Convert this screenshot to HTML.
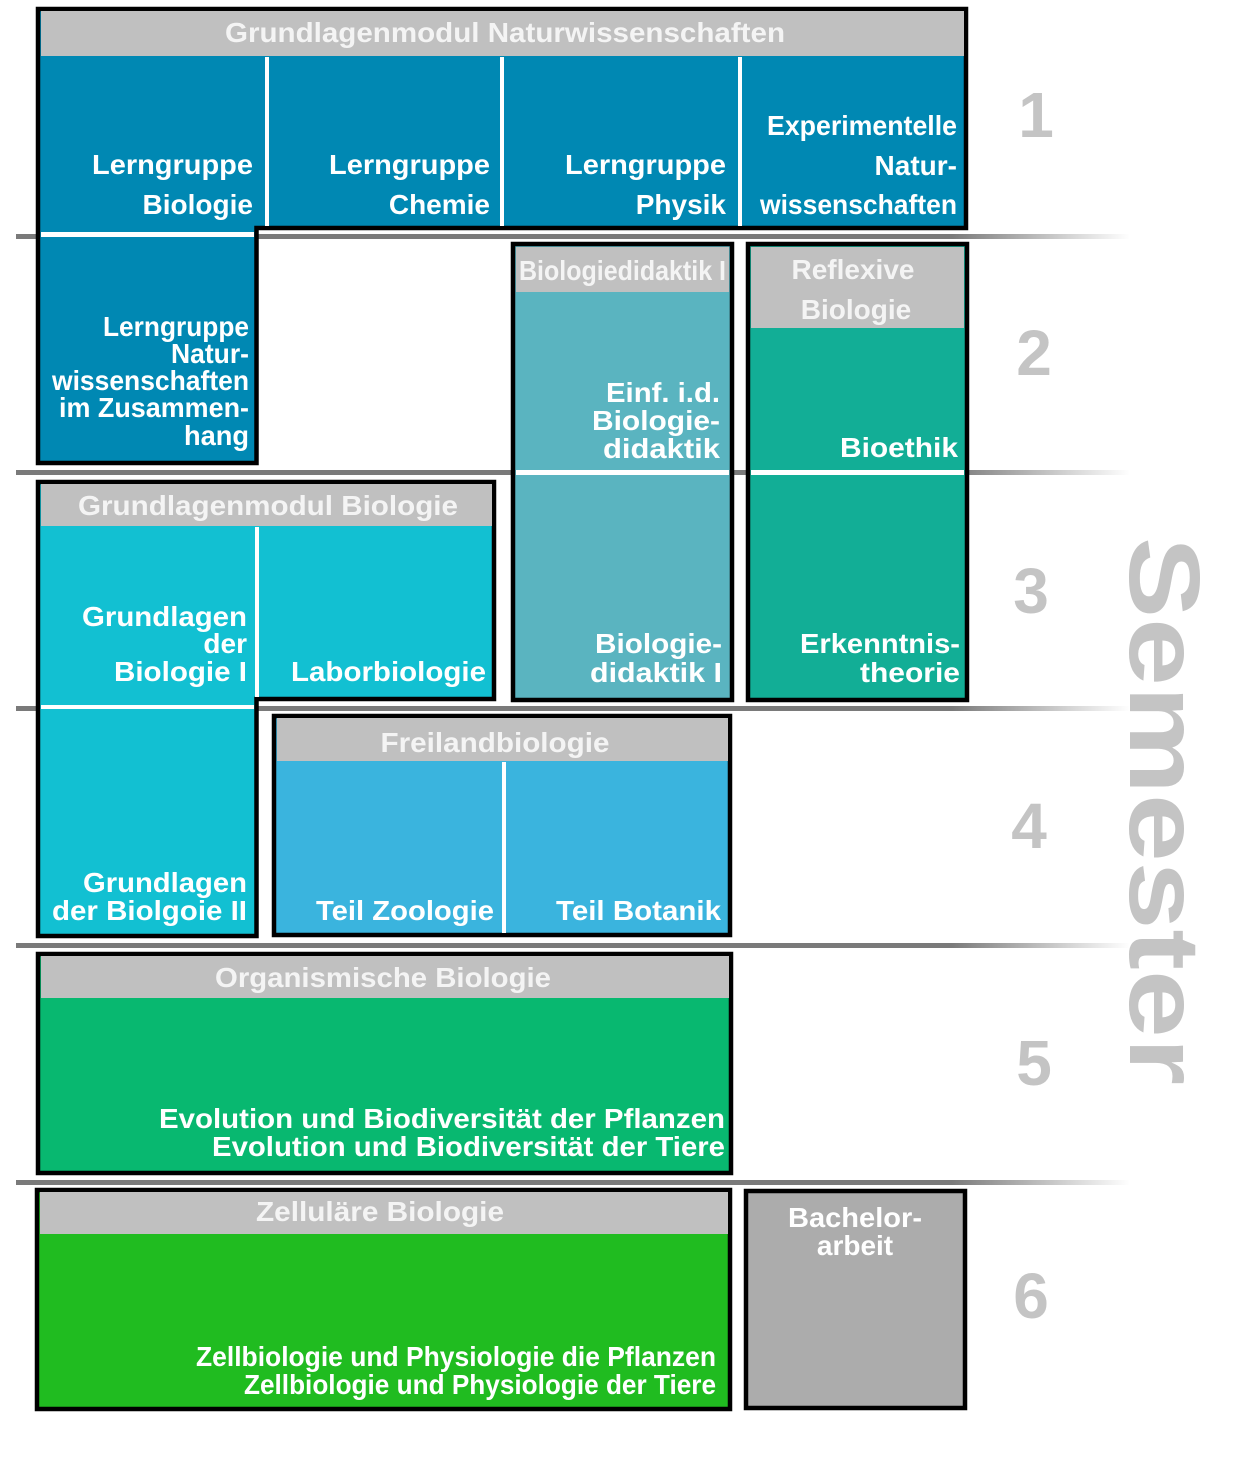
<!DOCTYPE html>
<html><head><meta charset="utf-8"><style>
html,body{margin:0;padding:0;background:#fff}
svg{display:block}
text{font-family:"Liberation Sans",sans-serif;font-weight:bold;fill:#fff}
.c{font-size:28px}
.h{font-size:28px;fill:#f4f4f4}
.n{font-size:64px;fill:#c4c4c4}
</style></head><body>
<svg width="1236" height="1470" viewBox="0 0 1236 1470" xmlns="http://www.w3.org/2000/svg">
<defs>
<linearGradient id="g" x1="16" y1="0" x2="1130" y2="0" gradientUnits="userSpaceOnUse">
<stop offset="0" stop-color="#7a7a7a"/><stop offset="0.84" stop-color="#7a7a7a"/><stop offset="0.95" stop-color="#d8d8d8"/><stop offset="1" stop-color="#fff"/>
</linearGradient>
</defs>
<!-- semester lines -->
<rect x="16" y="234" width="1114" height="5" fill="url(#g)"/>
<rect x="16" y="470" width="1114" height="5" fill="url(#g)"/>
<rect x="16" y="706" width="1114" height="5" fill="url(#g)"/>
<rect x="16" y="943" width="1114" height="5" fill="url(#g)"/>
<rect x="16" y="1180" width="1114" height="5" fill="url(#g)"/>

<!-- Box 1 -->
<path d="M38 9 H966 V228 H256.5 V463 H38 Z" fill="#0088b3" stroke="#000" stroke-width="4.5"/>
<rect x="41" y="11" width="923" height="45" fill="#c0c0c0"/>
<rect x="265" y="57" width="4" height="169" fill="#fff"/>
<rect x="500" y="57" width="4" height="169" fill="#fff"/>
<rect x="738" y="57" width="4" height="169" fill="#fff"/>
<rect x="41" y="232" width="213" height="5" fill="#fff"/>
<text class="h" x="505" y="42" text-anchor="middle" textLength="560" lengthAdjust="spacingAndGlyphs">Grundlagenmodul Naturwissenschaften</text>
<text class="c" x="253" y="174" text-anchor="end" textLength="161" lengthAdjust="spacingAndGlyphs">Lerngruppe</text>
<text class="c" x="253" y="214" text-anchor="end">Biologie</text>
<text class="c" x="490" y="174" text-anchor="end" textLength="161" lengthAdjust="spacingAndGlyphs">Lerngruppe</text>
<text class="c" x="490" y="214" text-anchor="end">Chemie</text>
<text class="c" x="726" y="174" text-anchor="end" textLength="161" lengthAdjust="spacingAndGlyphs">Lerngruppe</text>
<text class="c" x="726" y="214" text-anchor="end">Physik</text>
<text class="c" x="957" y="135" text-anchor="end" textLength="190" lengthAdjust="spacingAndGlyphs">Experimentelle</text>
<text class="c" x="957" y="175" text-anchor="end">Natur-</text>
<text class="c" x="957" y="214" text-anchor="end" textLength="197" lengthAdjust="spacingAndGlyphs">wissenschaften</text>
<text class="c" x="249" y="336" text-anchor="end" textLength="146" lengthAdjust="spacingAndGlyphs">Lerngruppe</text>
<text class="c" x="249" y="363" text-anchor="end" textLength="78" lengthAdjust="spacingAndGlyphs">Natur-</text>
<text class="c" x="249" y="390" text-anchor="end" textLength="197" lengthAdjust="spacingAndGlyphs">wissenschaften</text>
<text class="c" x="249" y="417" text-anchor="end" textLength="190" lengthAdjust="spacingAndGlyphs">im Zusammen-</text>
<text class="c" x="249" y="445" text-anchor="end" textLength="65" lengthAdjust="spacingAndGlyphs">hang</text>

<!-- Biologiedidaktik -->
<rect x="513" y="244" width="219" height="456" fill="#5ab4c0" stroke="#000" stroke-width="4.5"/>
<rect x="516" y="247" width="213" height="45" fill="#c0c0c0"/>
<rect x="516" y="470" width="213" height="5" fill="#fff"/>
<text class="h" x="519" y="280" textLength="207" lengthAdjust="spacingAndGlyphs">Biologiedidaktik I</text>
<text class="c" x="720" y="402" text-anchor="end" textLength="114" lengthAdjust="spacingAndGlyphs">Einf. i.d.</text>
<text class="c" x="720" y="430" text-anchor="end" textLength="128" lengthAdjust="spacingAndGlyphs">Biologie-</text>
<text class="c" x="720" y="458" text-anchor="end" textLength="117" lengthAdjust="spacingAndGlyphs">didaktik</text>
<text class="c" x="722" y="653" text-anchor="end" textLength="127" lengthAdjust="spacingAndGlyphs">Biologie-</text>
<text class="c" x="722" y="682" text-anchor="end" textLength="132" lengthAdjust="spacingAndGlyphs">didaktik I</text>

<!-- Reflexive -->
<rect x="748" y="244" width="219" height="456" fill="#12ae96" stroke="#000" stroke-width="4.5"/>
<rect x="751" y="247" width="213" height="81" fill="#c0c0c0"/>
<rect x="751" y="470" width="213" height="5" fill="#fff"/>
<text class="h" x="853" y="279" text-anchor="middle">Reflexive</text>
<text class="h" x="856" y="319" text-anchor="middle">Biologie</text>
<text class="c" x="958" y="457" text-anchor="end" textLength="118" lengthAdjust="spacingAndGlyphs">Bioethik</text>
<text class="c" x="960" y="653" text-anchor="end" textLength="160" lengthAdjust="spacingAndGlyphs">Erkenntnis-</text>
<text class="c" x="960" y="682" text-anchor="end" textLength="100" lengthAdjust="spacingAndGlyphs">theorie</text>

<!-- Grundlagenmodul Biologie -->
<path d="M38 482 H494 V699 H256.5 V936 H38 Z" fill="#12c0d2" stroke="#000" stroke-width="4.5"/>
<rect x="41" y="484" width="451" height="42" fill="#c0c0c0"/>
<rect x="255" y="527" width="4" height="170" fill="#fff"/>
<rect x="41" y="705" width="213" height="4" fill="#fff"/>
<text class="h" x="268" y="515" text-anchor="middle" textLength="380" lengthAdjust="spacingAndGlyphs">Grundlagenmodul Biologie</text>
<text class="c" x="247" y="626" text-anchor="end" textLength="165" lengthAdjust="spacingAndGlyphs">Grundlagen</text>
<text class="c" x="247" y="653" text-anchor="end">der</text>
<text class="c" x="247" y="681" text-anchor="end" textLength="133" lengthAdjust="spacingAndGlyphs">Biologie I</text>
<text class="c" x="486" y="681" text-anchor="end" textLength="195" lengthAdjust="spacingAndGlyphs">Laborbiologie</text>
<text class="c" x="247" y="892" text-anchor="end" textLength="164" lengthAdjust="spacingAndGlyphs">Grundlagen</text>
<text class="c" x="247" y="920" text-anchor="end" textLength="195" lengthAdjust="spacingAndGlyphs">der Biolgoie II</text>

<!-- Freiland -->
<rect x="274" y="716" width="456" height="219" fill="#3ab4de" stroke="#000" stroke-width="4.5"/>
<rect x="277" y="718" width="451" height="43" fill="#c0c0c0"/>
<rect x="502" y="762" width="4" height="171" fill="#fff"/>
<text class="h" x="495" y="752" text-anchor="middle" textLength="229" lengthAdjust="spacingAndGlyphs">Freilandbiologie</text>
<text class="c" x="494" y="920" text-anchor="end" textLength="178" lengthAdjust="spacingAndGlyphs">Teil Zoologie</text>
<text class="c" x="721" y="920" text-anchor="end" textLength="165" lengthAdjust="spacingAndGlyphs">Teil Botanik</text>

<!-- Organismische -->
<rect x="38" y="954" width="693" height="219" fill="#08b870" stroke="#000" stroke-width="4.5"/>
<rect x="41" y="956" width="688" height="42" fill="#c0c0c0"/>
<text class="h" x="383" y="987" text-anchor="middle" textLength="336" lengthAdjust="spacingAndGlyphs">Organismische Biologie</text>
<text class="c" x="725" y="1128" text-anchor="end" textLength="566" lengthAdjust="spacingAndGlyphs">Evolution und Biodiversität der Pflanzen</text>
<text class="c" x="725" y="1156" text-anchor="end" textLength="513" lengthAdjust="spacingAndGlyphs">Evolution und Biodiversität der Tiere</text>

<!-- Zellulaere -->
<rect x="37" y="1190" width="693" height="219" fill="#20bc20" stroke="#000" stroke-width="4.5"/>
<rect x="40" y="1192" width="688" height="42" fill="#c0c0c0"/>
<text class="h" x="380" y="1221" text-anchor="middle" textLength="248" lengthAdjust="spacingAndGlyphs">Zelluläre Biologie</text>
<text class="c" x="716" y="1366" text-anchor="end" textLength="520" lengthAdjust="spacingAndGlyphs">Zellbiologie und Physiologie die Pflanzen</text>
<text class="c" x="716" y="1394" text-anchor="end" textLength="472" lengthAdjust="spacingAndGlyphs">Zellbiologie und Physiologie der Tiere</text>

<!-- Bachelor -->
<rect x="746" y="1191" width="219" height="217" fill="#acacac" stroke="#000" stroke-width="4.5"/>
<text class="c" x="855" y="1227" text-anchor="middle" textLength="134" lengthAdjust="spacingAndGlyphs">Bachelor-</text>
<text class="c" x="855" y="1255" text-anchor="middle">arbeit</text>

<!-- numbers -->
<text class="n" x="1036" y="137" text-anchor="middle">1</text>
<text class="n" x="1034" y="375" text-anchor="middle">2</text>
<text class="n" x="1031" y="613" text-anchor="middle">3</text>
<text class="n" x="1029" y="848" text-anchor="middle">4</text>
<text class="n" x="1034" y="1085" text-anchor="middle">5</text>
<text class="n" x="1031" y="1318" text-anchor="middle">6</text>

<!-- Semester -->
<text transform="translate(1130,537) rotate(90)" x="0" y="0" style="font-size:100px;fill:#c4c4c4" textLength="548" lengthAdjust="spacingAndGlyphs">Semester</text>
</svg>
</body></html>
